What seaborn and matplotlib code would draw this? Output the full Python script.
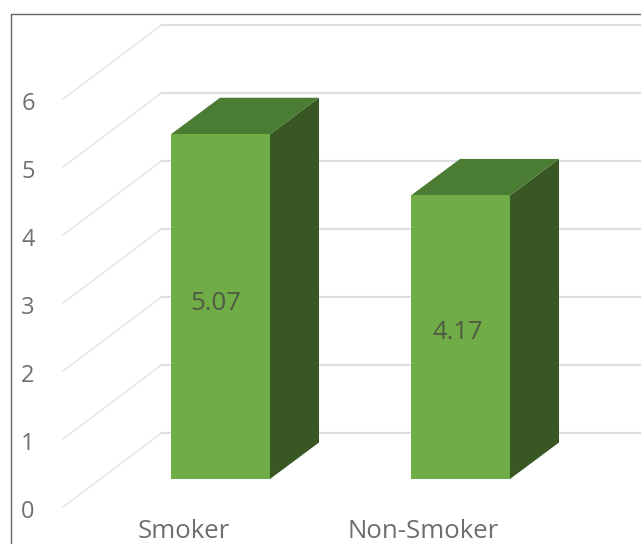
import matplotlib
matplotlib.use("Agg")
import matplotlib.pyplot as plt
from matplotlib.patches import Polygon
import pandas as pd
import seaborn as sns

categories = ["Smoker", "Non-Smoker"]
values = [5.07, 4.17]
value_labels = ["5.07", "4.17"]
y_ticks = [0, 1, 2, 3, 4, 5, 6]

W, H = 641, 544
PX_PER_UNIT = 68.0
PX_PER_CAT = 240.0
BASE_PX = 479.0      # pixel row of value 0 on the bars' front face
CAT0_PX = 220.5      # pixel column of first bar centre

sns.set_theme(style="white")
plt.rcParams["font.family"] = ["Open Sans", "DejaVu Sans"]

fig = plt.figure(figsize=(W / 100, H / 100), dpi=100)
ax = fig.add_axes([0, 0, 1, 1])

df = pd.DataFrame({"category": categories, "value": values})
sns.barplot(data=df, x="category", y="value", color="#70AD47", saturation=1,
            width=99 / PX_PER_CAT, ax=ax, zorder=4, linewidth=0)

ax.set_xlim(-CAT0_PX / PX_PER_CAT, (W - CAT0_PX) / PX_PER_CAT)
ax.set_ylim(-(H - BASE_PX) / PX_PER_UNIT, BASE_PX / PX_PER_UNIT)
ax.axis("off")


def dx(px):
    return px / PX_PER_CAT


def dy(px):
    return px / PX_PER_UNIT


xmin, xmax = ax.get_xlim()
ymin, ymax = ax.get_ylim()

# wall floor and gridlines
FRONT_X = xmin + dx(63)
BACK_X = xmin + dx(162)
FRONT_DY = -dy(28)
BACK_DY = dy(46.5)
for t in y_ticks:
    ax.plot([FRONT_X, BACK_X], [t + FRONT_DY, t + BACK_DY], color="#E2E2E2", lw=1.0, zorder=1)
    ax.plot([BACK_X, xmax], [t + BACK_DY, t + BACK_DY], color="#DEDEDE", lw=1.5, zorder=1)
    ax.text(xmin + dx(28), t + FRONT_DY - dy(5), str(t), color="#707070", fontsize=17,
            ha="center", va="center", zorder=6)

# depth faces built from the seaborn bars
DEPTH_X = dx(49)
DEPTH_Y = dy(36.5)
label_dx = [-5, -2.5]
label_dy = [3, 5]
for i, (bar, label, cat_text) in enumerate(zip(ax.patches[:len(values)], value_labels, categories)):
    x0, x1 = bar.get_x(), bar.get_x() + bar.get_width()
    h = bar.get_height()
    ax.add_patch(Polygon([(x1, 0), (x1 + DEPTH_X, DEPTH_Y), (x1 + DEPTH_X, h + DEPTH_Y), (x1, h)],
                         closed=True, fc="#385723", ec="none", zorder=3))
    ax.add_patch(Polygon([(x0, h), (x0 + DEPTH_X, h + DEPTH_Y), (x1 + DEPTH_X, h + DEPTH_Y), (x1, h)],
                         closed=True, fc="#4B7C33", ec="none", zorder=3))
    cx = (x0 + x1) / 2
    ax.text(cx + dx(label_dx[i]), h / 2 + dy(label_dy[i]), label,
            color="#4F5A45", fontsize=18.5, ha="center", va="center", zorder=6)
    ax.text(cx - dx(37), -dy(53), cat_text, color="#6E6E6E", fontsize=18.5,
            ha="center", va="center", zorder=6)

# image frame on the left and top only
ax.plot([xmin + dx(11), xmin + dx(11)], [ymin, ymax - dy(14)], color="#666666", lw=1.0, zorder=7, clip_on=False)
ax.plot([xmin + dx(11), xmax], [ymax - dy(14), ymax - dy(14)], color="#666666", lw=1.0, zorder=7, clip_on=False)

fig.savefig("out.png", dpi=100)
